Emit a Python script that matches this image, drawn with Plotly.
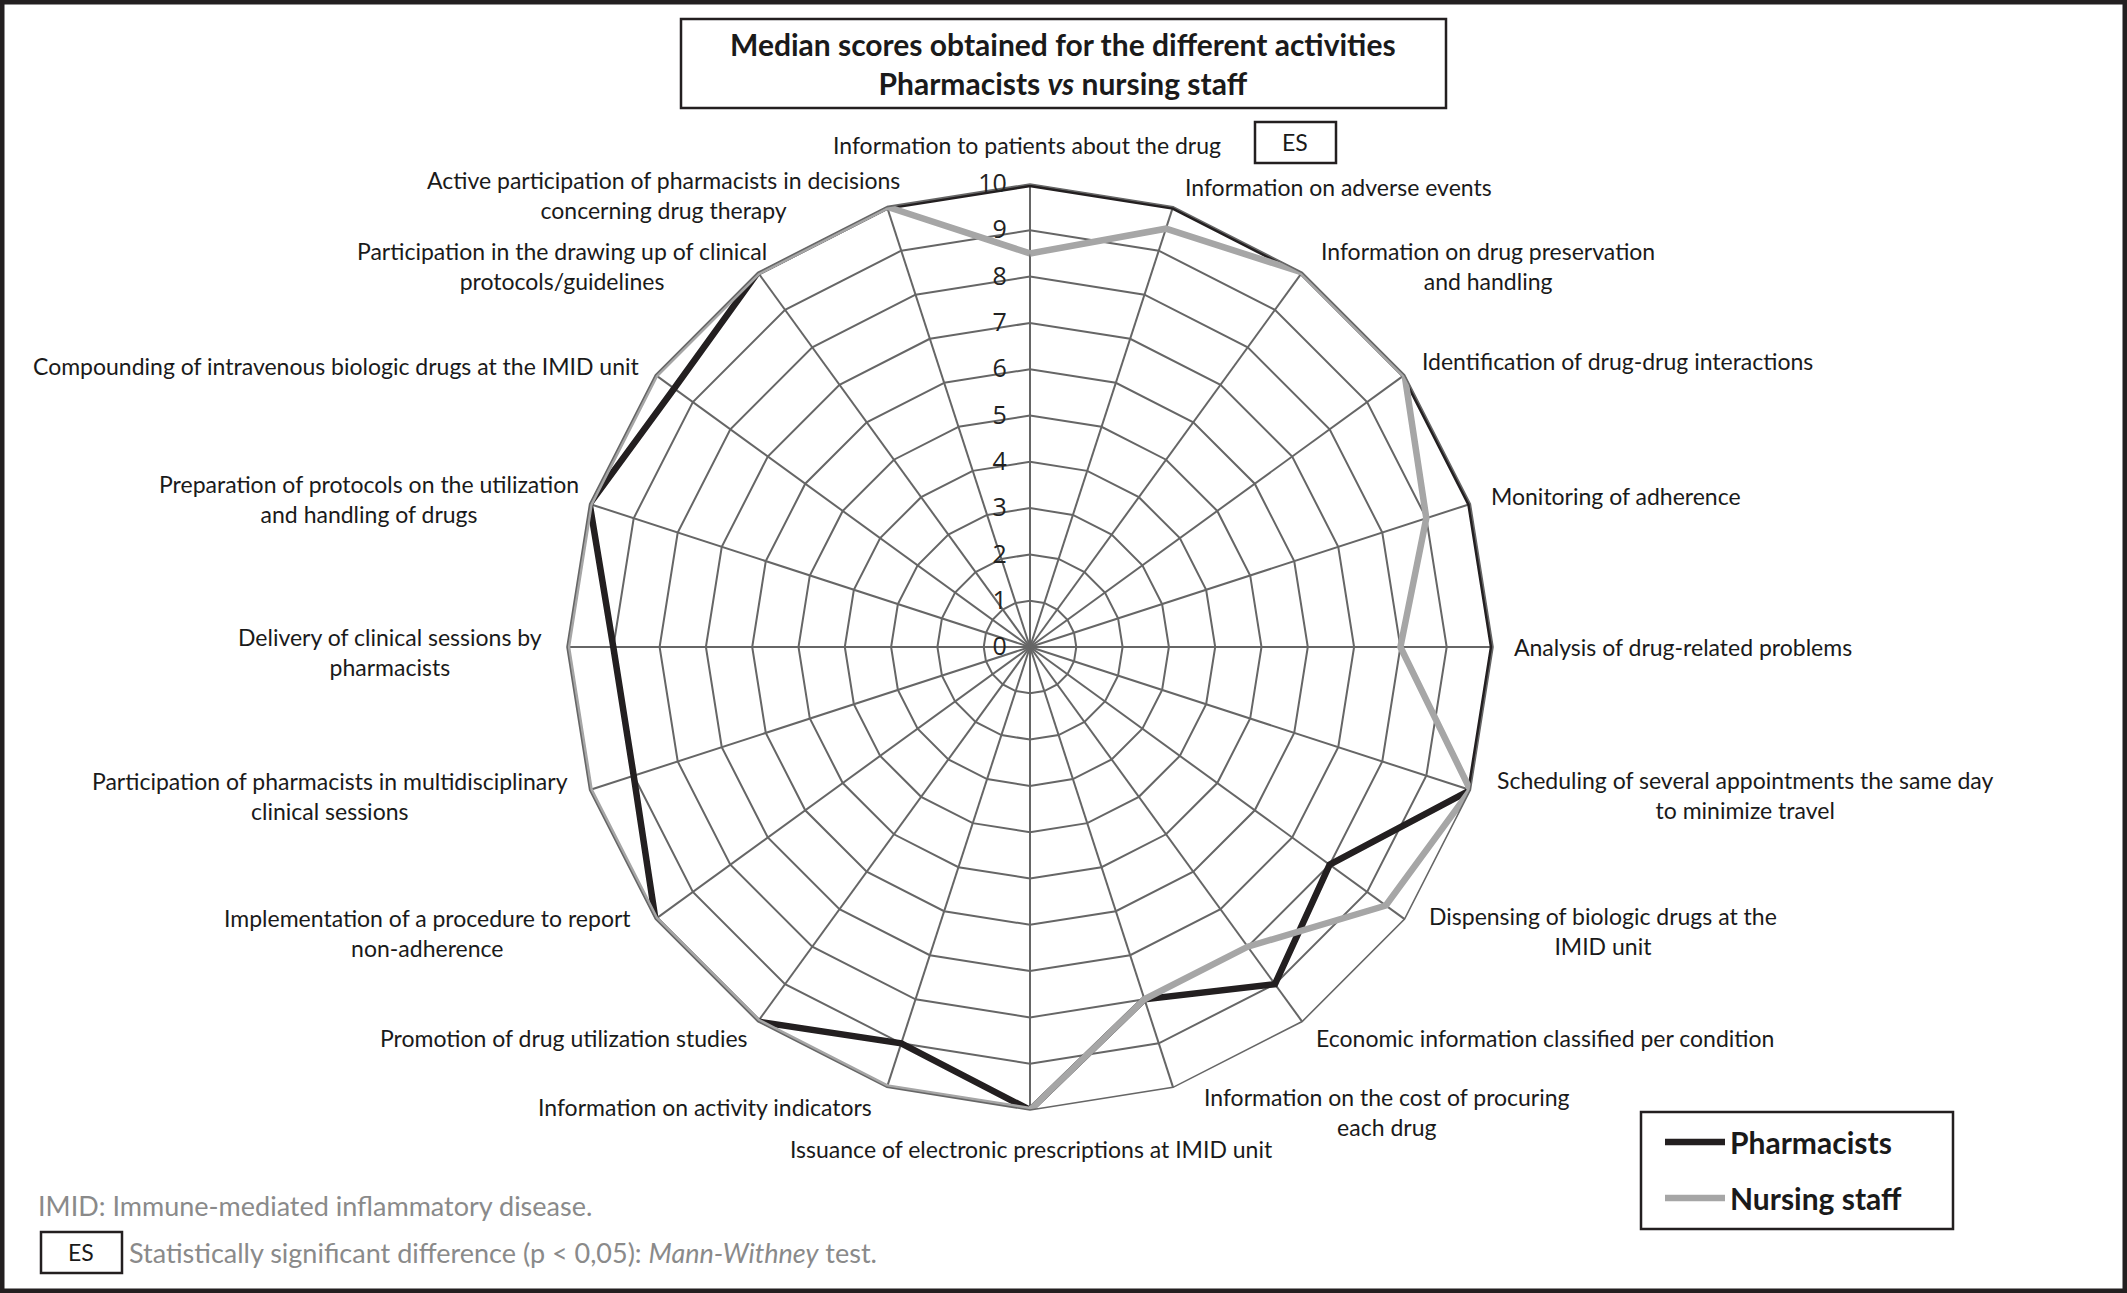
import plotly.graph_objects as go

# ---------------- data ----------------
activities = [
    "Information to patients about the drug",
    "Information on adverse events",
    "Information on drug preservation<br>and handling",
    "Identification of drug-drug interactions",
    "Monitoring of adherence",
    "Analysis of drug-related problems",
    "Scheduling of several appointments the same day<br>to minimize travel",
    "Dispensing of biologic drugs at the<br>IMID unit",
    "Economic information classified per condition",
    "Information on the cost of procuring<br>each drug",
    "Issuance of electronic prescriptions at IMID unit",
    "Information on activity indicators",
    "Promotion of drug utilization studies",
    "Implementation of a procedure to report<br>non-adherence",
    "Participation of pharmacists in multidisciplinary<br>clinical sessions",
    "Delivery of clinical sessions by<br>pharmacists",
    "Preparation of protocols on the utilization<br>and handling of drugs",
    "Compounding of intravenous biologic drugs at the IMID unit",
    "Participation in the drawing up of clinical<br>protocols/guidelines",
    "Active participation of pharmacists in decisions<br>concerning drug therapy",
]
pharmacists = [10, 10, 10, 10, 10, 10, 10, 8, 9, 8, 10, 9, 10, 10, 9, 9, 10, 9.5, 10, 10]
nursing = [8.5, 9.5, 10, 10, 9, 8, 10, 9.5, 8, 8, 10, 10, 10, 10, 10, 10, 10, 10, 10, 10]
radial_ticks = list(range(0, 11))

# ---------------- layout constants ----------------
W, H = 2127, 1293
LABEL_FONT = "Lato"

def px(x):
    return x / W

def py(y):
    return 1 - y / H

# label placement (pixel position, x anchor) for each activity, in order
label_pos = [
    (1027, 145, "center"), (1183, 187, "left"), (1319, 266, "left"),
    (1420, 361, "left"), (1489, 496, "left"), (1512, 647, "left"),
    (1495, 795, "left"), (1427, 931, "left"), (1314, 1038, "left"),
    (1202, 1112, "left"), (1031, 1149, "center"), (874, 1107, "right"),
    (750, 1038, "right"), (633, 933, "right"), (570, 796, "right"),
    (544, 652, "right"), (581, 499, "right"), (642, 366, "right"),
    (769, 266, "right"), (902, 195, "right"),
]

theta_closed = activities + activities[:1]

fig = go.Figure()
fig.add_trace(go.Scatterpolar(
    r=pharmacists + pharmacists[:1], theta=theta_closed, mode="lines",
    name="Pharmacists", legendgroup="ph", line=dict(color="#231f20", width=6.5),
))
fig.add_trace(go.Scatterpolar(
    r=nursing + nursing[:1], theta=theta_closed, mode="lines",
    name="Nursing staff", legendgroup="ns", line=dict(color="#a6a6a6", width=6.5),
))

cx, cy, R = 1030, 647, 463
fig.update_layout(
    width=W, height=H,
    margin=dict(l=0, r=0, t=0, b=0),
    paper_bgcolor="white",
    font=dict(family=LABEL_FONT, color="#1a1a1a"),
    polar=dict(
        domain=dict(x=[px(cx - R), px(cx + R)], y=[py(cy + R), py(cy - R)]),
        bgcolor="white",
        gridshape="linear",
        angularaxis=dict(
            rotation=90, direction="clockwise", showticklabels=False,
            ticks="", showgrid=True, gridcolor="#666666", gridwidth=1.6,
            showline=True, linecolor="#666666", linewidth=1.6,
        ),
        radialaxis=dict(
            range=[0, 10], tickvals=radial_ticks, ticktext=[str(t) for t in radial_ticks],
            showline=False, ticks="outside", ticklen=14, tickcolor="rgba(0,0,0,0)",
            angle=90, tickangle=90, side="counterclockwise",
            showgrid=True, gridcolor="#666666", gridwidth=1.6,
            tickfont=dict(family="Open Sans", size=25, color="#222222"),
        ),
    ),
    legend=dict(
        x=px(1660), y=py(1116), xanchor="left", yanchor="top",
        borderwidth=0, bgcolor="rgba(0,0,0,0)",
        font=dict(family=LABEL_FONT, size=30, color="#1a1a1a", weight="bold"),
        itemwidth=60, tracegroupgap=14,
    ),
)

annotations = []
for (text, (x, y, anchor)) in zip(activities, label_pos):
    annotations.append(dict(
        x=px(x), y=py(y), xref="paper", yref="paper", text=text,
        showarrow=False, xanchor=anchor, yanchor="middle", align="center",
        font=dict(family=LABEL_FONT, size=23, color="#1a1a1a"),
    ))

# title
annotations.append(dict(
    x=px(1063), y=py(64), xref="paper", yref="paper",
    text="<b>Median scores obtained for the different activities<br>Pharmacists <i>vs</i> nursing staff</b>",
    showarrow=False, xanchor="center", yanchor="middle", align="center",
    font=dict(family=LABEL_FONT, size=30, color="#1a1a1a"),
))
# ES markers
annotations.append(dict(x=px(1295), y=py(142), xref="paper", yref="paper", text="ES",
                        showarrow=False, xanchor="center", yanchor="middle",
                        font=dict(family=LABEL_FONT, size=23, color="#1a1a1a")))
annotations.append(dict(x=px(81), y=py(1252), xref="paper", yref="paper", text="ES",
                        showarrow=False, xanchor="center", yanchor="middle",
                        font=dict(family=LABEL_FONT, size=23, color="#1a1a1a")))
# footnotes
annotations.append(dict(x=px(36), y=py(1205), xref="paper", yref="paper",
                        text="IMID: Immune-mediated inflammatory disease.",
                        showarrow=False, xanchor="left", yanchor="middle",
                        font=dict(family=LABEL_FONT, size=27, color="#8a8a8a")))
annotations.append(dict(x=px(127), y=py(1252), xref="paper", yref="paper",
                        text="Statistically significant difference (p &lt; 0,05): <i>Mann-Withney</i> test.",
                        showarrow=False, xanchor="left", yanchor="middle",
                        font=dict(family=LABEL_FONT, size=27, color="#8a8a8a")))
fig.update_layout(annotations=annotations)

shapes = [
    # outer frame
    dict(type="rect", xref="paper", yref="paper", x0=0, y0=0, x1=1, y1=1,
         line=dict(color="#231f20", width=9)),
    # title box
    dict(type="rect", xref="paper", yref="paper", x0=px(681), x1=px(1446), y0=py(108), y1=py(19),
         line=dict(color="#231f20", width=2.5)),
    # ES boxes
    dict(type="rect", xref="paper", yref="paper", x0=px(1255), x1=px(1336), y0=py(163), y1=py(122),
         line=dict(color="#231f20", width=2.5)),
    dict(type="rect", xref="paper", yref="paper", x0=px(41), x1=px(122), y0=py(1273), y1=py(1232),
         line=dict(color="#231f20", width=2.5)),
    # legend box
    dict(type="rect", xref="paper", yref="paper", x0=px(1641), x1=px(1953), y0=py(1229), y1=py(1112),
         line=dict(color="#231f20", width=2.5)),
]
fig.update_layout(shapes=shapes)

fig.write_html(
    "out.html",
    config={"displayModeBar": False},
    post_script="document.body.style.margin='0';document.body.style.overflow='hidden';",
)
